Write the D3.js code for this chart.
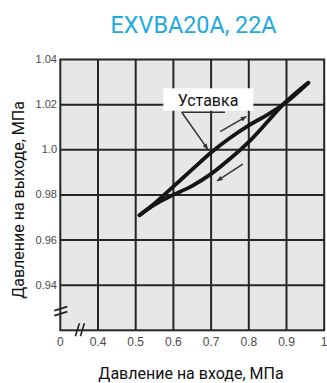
<!DOCTYPE html>
<html>
<head>
<meta charset="utf-8">
<script src="https://cdn.jsdelivr.net/npm/d3@7/dist/d3.min.js"></script>
<style>
  html, body { margin: 0; padding: 0; background: #ffffff; }
  svg { display: block; }
</style>
</head>
<body>
<svg id="chart" width="327" height="383"></svg>
<script>
// Inlet pressure (MPa) vs outlet pressure (MPa), regulator hysteresis loop
const xTickValues = [0.3, 0.4, 0.5, 0.6, 0.7, 0.8, 0.9, 1.0];
const xTickLabels = ["0", "0.4", "0.5", "0.6", "0.7", "0.8", "0.9", "1"];
const yTickValues = [0.94, 0.96, 0.98, 1.00, 1.02, 1.04];
const yTickLabels = ["0.94", "0.96", "0.98", "1.0", "1.02", "1.04"];

// Rising inlet pressure branch
const risingInlet  = [0.51, 0.55, 0.59, 0.65, 0.70, 0.75, 0.80, 0.85, 0.89, 0.958];
const risingOutlet = [0.9710, 0.9762, 0.9822, 0.9913, 0.9988, 1.0052, 1.0108, 1.0156, 1.0199, 1.0297];
// Falling inlet pressure branch
const fallingInlet  = [0.958, 0.92, 0.89, 0.85, 0.80, 0.75, 0.70, 0.65, 0.59, 0.55, 0.51];
const fallingOutlet = [1.0297, 1.0245, 1.0199, 1.0125, 1.0035, 0.9960, 0.9893, 0.9840, 0.9793, 0.9757, 0.9710];

// Direction arrows [x1, y1, x2, y2] in data units
const risingArrow  = [0.724, 1.0080, 0.793, 1.0147];
const fallingArrow = [0.784, 0.9936, 0.716, 0.9862];
// Set-point callout target
const setPoint = [0.695, 0.9985];

const title = "EXVBA20A, 22A";
const xTitle = "Давление на входе, МПа";
const yTitle = "Давление на выходе, МПа";
const calloutText = "Уставка";

const svg = d3.select("#chart");
const x = d3.scaleLinear().domain([0.3, 1.0]).range([60.3, 324.2]);
const y = d3.scaleLinear().domain([0.92, 1.04]).range([330.3, 59.5]);

const defs = svg.append("defs");
defs.append("marker")
  .attr("id", "head")
  .attr("viewBox", "0 0 10 10")
  .attr("refX", 9).attr("refY", 5)
  .attr("markerWidth", 6).attr("markerHeight", 6)
  .attr("markerUnits", "userSpaceOnUse")
  .attr("orient", "auto")
  .append("path")
  .attr("d", "M0,1 L10,5 L0,9 Z")
  .attr("fill", "#333");

// Title
svg.append("text")
  .attr("x", 193.5).attr("y", 33)
  .attr("text-anchor", "middle")
  .attr("font-family", "Roboto, 'Liberation Sans', sans-serif")
  .attr("font-size", 24)
  .attr("fill", "#1ea9e1")
  .attr("textLength", 166)
  .attr("lengthAdjust", "spacingAndGlyphs")
  .text(title);

// Plot background
svg.append("rect")
  .attr("x", x(0.3)).attr("y", y(1.04))
  .attr("width", x(1.0) - x(0.3)).attr("height", y(0.92) - y(1.04))
  .attr("fill", "#e6e7e7");

const gridColor = "#262626";
// Vertical grid
svg.append("g").selectAll("line")
  .data(xTickValues.slice(1, -1))
  .join("line")
  .attr("x1", d => x(d)).attr("x2", d => x(d))
  .attr("y1", y(1.04)).attr("y2", y(0.92))
  .attr("stroke", gridColor).attr("stroke-width", 2);
// Horizontal grid
svg.append("g").selectAll("line")
  .data(yTickValues.slice(0, -1))
  .join("line")
  .attr("x1", x(0.3)).attr("x2", x(1.0))
  .attr("y1", d => y(d)).attr("y2", d => y(d))
  .attr("stroke", gridColor).attr("stroke-width", 2);
// Frame
svg.append("rect")
  .attr("x", x(0.3)).attr("y", y(1.04))
  .attr("width", x(1.0) - x(0.3)).attr("height", y(0.92) - y(1.04))
  .attr("fill", "none").attr("stroke", gridColor).attr("stroke-width", 2);

// Axis break marks
const brk = svg.append("g").attr("stroke", "#222").attr("stroke-width", 1.6).attr("fill", "none");
[-2.5, 2.5].forEach(o => {
  brk.append("line")
    .attr("x1", x(0.3) - 6).attr("y1", y(0.9285) + o + 2)
    .attr("x2", x(0.3) + 7).attr("y2", y(0.9285) + o - 2);
  brk.append("line")
    .attr("x1", x(0.352) + o - 2).attr("y1", y(0.92) + 6)
    .attr("x2", x(0.352) + o + 2).attr("y2", y(0.92) - 7);
});

// Tick labels
const tickFont = "'Liberation Sans', Arial, sans-serif";
svg.append("g").selectAll("text")
  .data(yTickValues)
  .join("text")
  .attr("x", 57).attr("y", d => y(d) + 3.5)
  .attr("text-anchor", "end")
  .attr("font-family", tickFont).attr("font-size", 11)
  .attr("fill", "#4a4a4a")
  .text((d, i) => yTickLabels[i]);
svg.append("g").selectAll("text")
  .data(xTickValues)
  .join("text")
  .attr("x", d => x(d)).attr("y", 346)
  .attr("text-anchor", "middle")
  .attr("font-family", tickFont).attr("font-size", 12)
  .attr("fill", "#4a4a4a")
  .text((d, i) => xTickLabels[i]);

// Axis titles
svg.append("text")
  .attr("x", 191).attr("y", 379)
  .attr("text-anchor", "middle")
  .attr("font-family", "Roboto, 'Liberation Sans', sans-serif")
  .attr("font-size", 16).attr("fill", "#111")
  .text(xTitle);
svg.append("text")
  .attr("transform", "translate(24,200) rotate(-90)")
  .attr("text-anchor", "middle")
  .attr("font-family", "Roboto, 'Liberation Sans', sans-serif")
  .attr("font-size", 16).attr("fill", "#111")
  .text(yTitle);

// Hysteresis branches
const line = d3.line()
  .x(d => x(d[0])).y(d => y(d[1]))
  .curve(d3.curveMonotoneX);
const rising = risingInlet.map((v, i) => [v, risingOutlet[i]]);
const falling = fallingInlet.map((v, i) => [v, fallingOutlet[i]])
  .sort((a, b) => a[0] - b[0]);
[rising, falling].forEach(pts => {
  svg.append("path")
    .attr("d", line(pts))
    .attr("fill", "none")
    .attr("stroke", "#151515")
    .attr("stroke-width", 3.8)
    .attr("stroke-linecap", "round")
    .attr("stroke-linejoin", "round");
});

// Direction arrows
[risingArrow, fallingArrow].forEach(a => {
  svg.append("line")
    .attr("x1", x(a[0])).attr("y1", y(a[1]))
    .attr("x2", x(a[2])).attr("y2", y(a[3]))
    .attr("stroke", "#333").attr("stroke-width", 1.5)
    .attr("marker-end", "url(#head)");
});

// Set-point callout
svg.append("rect")
  .attr("x", 163.3).attr("y", 88.3)
  .attr("width", 90).attr("height", 22.4)
  .attr("fill", "#ffffff");
svg.append("text")
  .attr("x", 208).attr("y", 105.5)
  .attr("text-anchor", "middle")
  .attr("font-family", "Roboto, 'Liberation Sans', sans-serif")
  .attr("font-size", 16).attr("fill", "#111")
  .text(calloutText);
svg.append("line")
  .attr("x1", 181.7).attr("y1", 112.3)
  .attr("x2", 225).attr("y2", 112.3)
  .attr("stroke", "#333").attr("stroke-width", 1.5);
svg.append("line")
  .attr("x1", 181.7).attr("y1", 112.3)
  .attr("x2", x(setPoint[0]) - 1.5).attr("y2", y(setPoint[1]) - 4)
  .attr("stroke", "#333").attr("stroke-width", 1.5)
  .attr("marker-end", "url(#head)");
</script>
</body>
</html>
